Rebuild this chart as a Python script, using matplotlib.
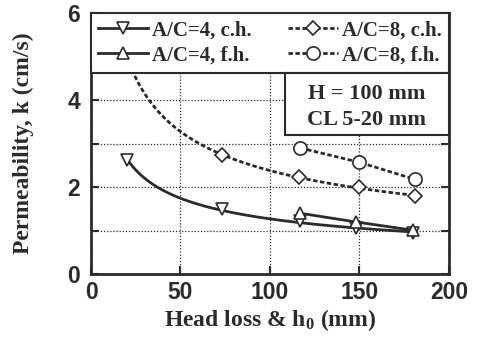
import numpy as np
import matplotlib
matplotlib.use("Agg")
import matplotlib.pyplot as plt
from matplotlib.lines import Line2D
from matplotlib.patches import Rectangle

# ---- data ----
x_ac4_ch = [20, 73, 117, 148, 180]
k_ac4_ch = [2.62, 1.49, 1.22, 1.06, 0.94]

x_ac4_fh = [117, 148, 180]
k_ac4_fh = [1.40, 1.20, 1.01]

x_ac8_ch = [20, 73, 116, 150, 181]
k_ac8_ch = [5.0, 2.74, 2.23, 2.00, 1.79]

x_ac8_fh = [117, 150, 181]
k_ac8_fh = [2.90, 2.57, 2.18]

labels = ["A/C=4, c.h.", "A/C=4, f.h.", "A/C=8, c.h.", "A/C=8, f.h."]
xticks = [0, 50, 100, 150, 200]
yticks = [0, 1, 2, 3, 4, 5, 6]
yticklabels = ["0", "", "2", "", "4", "", "6"]

C = "#2b2b2b"
plt.rcParams["mathtext.fontset"] = "custom"
plt.rcParams["mathtext.rm"] = "Liberation Serif:bold"
plt.rcParams["mathtext.it"] = "Liberation Serif:bold"
plt.rcParams["mathtext.bf"] = "Liberation Serif:bold"

fig = plt.figure(figsize=(4.79, 3.44), dpi=100)
ax = fig.add_axes([0.190, 0.203, 0.747, 0.759])


def power_fit(x, y):
    b, a = np.polyfit(np.log(x), np.log(y), 1)
    xs = np.linspace(min(x), max(x), 200)
    return xs, np.exp(a) * xs ** b

dash = (0, (1.6, 0.9))
lw = 2.0

# A/C=4 c.h. : smooth fitted solid curve
xs, ys = power_fit(x_ac4_ch, k_ac4_ch)
ax.plot(xs, ys, color=C, lw=lw, zorder=2)
ax.plot(x_ac4_ch, k_ac4_ch, ls="none", marker="v", ms=8.5, mfc="white", mec=C, mew=1.2, zorder=3)

# A/C=4 f.h.
ax.plot(x_ac4_fh, k_ac4_fh, color=C, lw=lw, marker="^", ms=8.5, mfc="white", mec=C, mew=1.2, zorder=3)

# A/C=8 c.h. : fitted dashed curve
xs, ys = power_fit(x_ac8_ch, k_ac8_ch)
ax.plot(xs, ys, color=C, lw=lw, ls=dash, zorder=2)
ax.plot(x_ac8_ch, k_ac8_ch, ls="none", marker="D", ms=7, mfc="white", mec=C, mew=1.2, zorder=3)

# A/C=8 f.h.
ax.plot(x_ac8_fh, k_ac8_fh, color=C, lw=lw, ls=dash, marker="o", ms=9.5, mfc="white", mec=C, mew=1.2, zorder=3)

ax.set_xlim(0, 200)
ax.set_ylim(0, 6)
ax.set_xticks(xticks)
ax.set_yticks(yticks)
ax.set_yticklabels(yticklabels)
ax.grid(True, ls=(0, (1, 1.5)), color=C, lw=0.9)
ax.tick_params(direction="in", length=6, width=1.5, color=C, top=True, right=True,
               labelsize=16.5, labelcolor=C)
ax.tick_params(axis="x", pad=5)
ax.tick_params(axis="y", pad=8)
for lab in ax.get_xticklabels() + ax.get_yticklabels():
    lab.set_family("Liberation Sans")
    lab.set_fontweight("bold")
for s in ax.spines.values():
    s.set_linewidth(2.0)
    s.set_color(C)

serif = {"family": "Liberation Serif", "weight": "bold", "color": C}
ax.set_xlabel("Head loss & h$_0$ (mm)", fontsize=17, **serif)
ax.set_ylabel("Permeability, k (cm/s)", fontsize=17, **serif)
ax.xaxis.set_label_coords(0.5, -0.125)
ax.yaxis.set_label_coords(-0.16, 0.5)

handles = [
    Line2D([], [], color=C, lw=lw, marker="v", ms=8.5, mfc="white", mec=C, mew=1.2),
    Line2D([], [], color=C, lw=lw, marker="^", ms=8.5, mfc="white", mec=C, mew=1.2),
    Line2D([], [], color=C, lw=lw, ls=dash, marker="D", ms=7, mfc="white", mec=C, mew=1.2),
    Line2D([], [], color=C, lw=lw, ls=dash, marker="o", ms=9.5, mfc="white", mec=C, mew=1.2),
]
leg = ax.legend(handles, labels, ncol=2, loc="upper left",
                bbox_to_anchor=(0, 0.77, 1, 0.23), mode="expand",
                prop={"family": "Liberation Serif", "weight": "bold", "size": 15},
                frameon=True, fancybox=False, framealpha=1, edgecolor=C,
                handlelength=2.4, handletextpad=0.2, columnspacing=0.5,
                labelspacing=0.25, borderpad=0.35, borderaxespad=0)
leg.get_frame().set_linewidth(1.5)
for t in leg.get_texts():
    t.set_color(C)
leg.set_zorder(5)

ax.add_patch(Rectangle((0.542, 0.533), 0.458, 0.237, transform=ax.transAxes,
                       fc="white", ec=C, lw=1.5, zorder=5.5))
ax.text(0.771, 0.642, "H = 100 mm\nCL 5-20 mm", transform=ax.transAxes,
        ha="center", va="center", fontsize=16, linespacing=1.4, zorder=6, **serif)

fig.savefig("out.png", dpi=100, facecolor="white")
